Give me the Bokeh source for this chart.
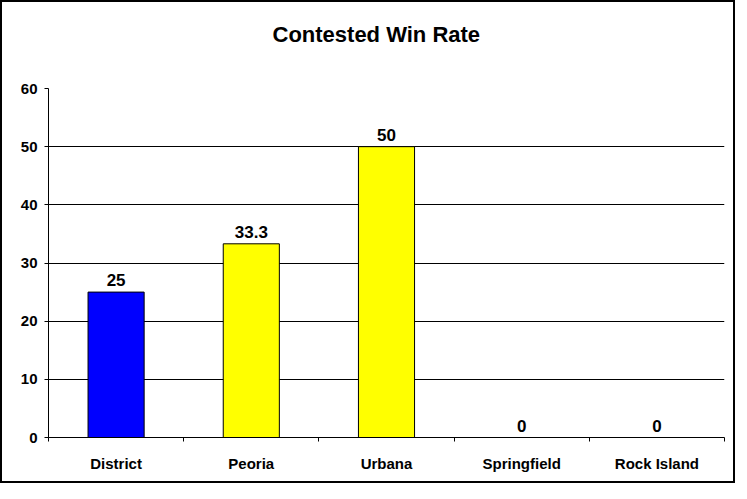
from bokeh.plotting import figure
from bokeh.models import ColumnDataSource, Range1d, FixedTicker, Title
from bokeh.core.properties import value
from bokeh.embed import file_html
from bokeh.resources import INLINE

# ---- data ----
categories = ["District", "Peoria", "Urbana", "Springfield", "Rock Island"]
win_rate = [25, 33.3, 50, 0, 0]
y_ticks = [0, 10, 20, 30, 40, 50, 60]
title_text = "Contested Win Rate"

# ---- styling ----
bar_colors = ["#0000FF", "#FFFF00", "#FFFF00", "#FFFF00", "#FFFF00"]
FONT = "Liberation Sans"

n = len(categories)
centers = [i + 0.5 for i in range(n)]
boundaries = [i for i in range(n + 1)]

src = ColumnDataSource(dict(
    x=centers,
    top=win_rate,
    color=bar_colors,
    label=[f"{v:g}" for v in win_rate],
))

p = figure(
    width=735, height=483, title=None,
    output_backend="svg", toolbar_location=None, tools="",
    x_range=Range1d(0, n), y_range=Range1d(0, 60),
    min_border_left=46, min_border_right=13,
    min_border_top=84, min_border_bottom=48,
)
p.outline_line_color = None
p.background_fill_color = "white"
p.border_fill_color = "white"
p.styles = {"border": "2px solid black"}

# spacer (closest to frame) then the real title above it
p.add_layout(Title(text=" ", text_font_size="10px", standoff=8), "above")
p.add_layout(Title(text=title_text, align="left", offset=224,
                   vertical_align="top", standoff=38,
                   text_font=FONT, text_font_style="bold",
                   text_font_size="22px", text_color="black"), "above")

p.vbar(x="x", top="top", bottom=0, width=0.415, source=src,
       fill_color="color", line_color="black", line_width=1)

p.text(x="x", y="top", text="label", source=src,
       text_align="center", text_baseline="alphabetic", y_offset=-12,
       text_font=value(FONT), text_font_style="bold",
       text_font_size="17px", text_color="black")

# grid
p.xgrid.visible = False
p.ygrid.grid_line_color = "black"
p.ygrid.grid_line_width = 1
p.ygrid.ticker = FixedTicker(ticks=y_ticks)

# y axis
ya = p.yaxis[0]
ya.ticker = FixedTicker(ticks=y_ticks)
ya.axis_line_color = "black"
ya.major_tick_line_color = "black"
ya.major_tick_out = 4
ya.major_tick_in = 0
ya.minor_tick_line_color = None
ya.major_label_standoff = 7
ya.major_label_text_font = FONT
ya.major_label_text_font_style = "bold"
ya.major_label_text_font_size = "15px"
ya.major_label_text_color = "black"

# x axis
xa = p.xaxis[0]
xa.ticker = FixedTicker(ticks=centers, minor_ticks=boundaries)
xa.major_label_overrides = {c: name for c, name in zip(centers, categories)}
xa.axis_line_color = "black"
xa.major_tick_line_color = None
xa.major_tick_out = 0
xa.major_tick_in = 0
xa.minor_tick_line_color = "black"
xa.minor_tick_out = 4
xa.minor_tick_in = 0
xa.major_label_standoff = 13
xa.major_label_text_font = FONT
xa.major_label_text_font_style = "bold"
xa.major_label_text_font_size = "15px"
xa.major_label_text_color = "black"

open("out.html", "w").write(file_html(p, INLINE))
